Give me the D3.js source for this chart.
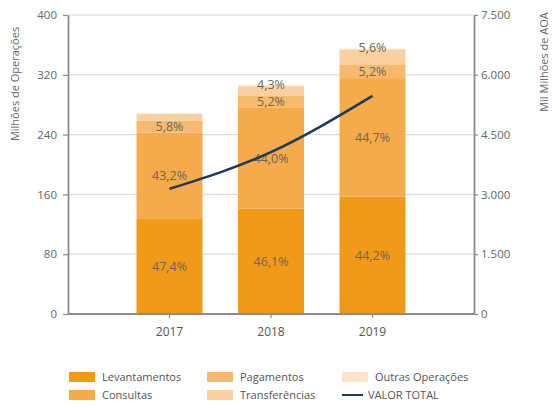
<!DOCTYPE html>
<html>
<head>
<meta charset="utf-8">
<script src="https://cdn.jsdelivr.net/npm/d3@7"></script>
<style>
  body { margin: 0; background: #fff; }
  text { font-family: "Open Sans", sans-serif; }
</style>
</head>
<body>
<svg id="chart" width="552" height="408"></svg>
<script>
// data
var years = ["2017", "2018", "2019"];
var totals = [268, 306, 355];               // Milhões de Operações
var levantamentos = [47.4, 46.1, 44.2];     // % of total
var consultas = [43.2, 44.0, 44.7];
var pagamentos = [5.8, 5.2, 5.2];
var transferencias = [3.6, 4.3, 5.6];
var outras = [0.0, 0.4, 0.3];
var valorTotal = [3140, 4060, 5470];        // Mil Milhões de AOA

var leftTicks = [0, 80, 160, 240, 320, 400];
var rightTicks = [0, 1500, 3000, 4500, 6000, 7500];

var seriesNames = ["Levantamentos", "Consultas", "Pagamentos", "Transferências", "Outras Operações"];
var seriesPct = [levantamentos, consultas, pagamentos, transferencias, outras];
var colors = ["#f19a1a", "#f5aa4b", "#f7ba6d", "#fad0a0", "#fde4c8"];

var pt = d3.formatLocale({decimal: ",", thousands: ".", grouping: [3], currency: ["", ""]});
var fmtPct = pt.format(".1f");
var fmtNum = pt.format(",");

var svg = d3.select("#chart");
var plotLeft = 68, plotRight = 474, plotTop = 15, plotBottom = 314;

var x = d3.scaleBand()
    .domain(years)
    .range([plotLeft + (plotRight - plotLeft) / 8, plotRight - (plotRight - plotLeft) / 8])
    .paddingInner(0.35)
    .paddingOuter(0.175);

var y = d3.scaleLinear().domain([0, 400]).range([plotBottom, plotTop]);
var y2 = d3.scaleLinear().domain([0, 7500]).range([plotBottom, plotTop]);

// gridlines
svg.append("g")
    .selectAll("line")
    .data(leftTicks.slice(1))
    .enter()
    .append("line")
    .attr("x1", plotLeft).attr("x2", plotRight)
    .attr("y1", function(d) { return y(d); })
    .attr("y2", function(d) { return y(d); })
    .attr("stroke", "#dcdcdc")
    .attr("stroke-width", 1.2);

// stacked bars
var stacks = years.map(function(yr, i) {
    var acc = 0;
    return seriesPct.map(function(s, k) {
        var v = s[i] * totals[i] / 100;
        var seg = {year: yr, k: k, pct: s[i], y0: acc, y1: acc + v};
        acc += v;
        return seg;
    });
});
var segs = [].concat.apply([], stacks);

svg.append("g")
    .selectAll("rect")
    .data(segs)
    .enter()
    .append("rect")
    .attr("x", function(d) { return x(d.year); })
    .attr("width", x.bandwidth())
    .attr("y", function(d) { return y(d.y1); })
    .attr("height", function(d) { return y(d.y0) - y(d.y1); })
    .attr("fill", function(d) { return colors[d.k]; });

// percentage labels
svg.append("g")
    .selectAll("text")
    .data(segs.filter(function(d) { return d.k < 3 || (d.k == 3 && d.pct >= 4); }))
    .enter()
    .append("text")
    .attr("x", function(d) { return x(d.year) + x.bandwidth() / 2; })
    .attr("y", function(d) {
        if (d.k == 3) return y(d.y1) - 2;
        return (y(d.y0) + y(d.y1)) / 2;
    })
    .attr("dy", "0.35em")
    .attr("text-anchor", "middle")
    .attr("font-size", 12.5)
    .attr("fill", "#6e6658")
    .text(function(d) { return fmtPct(d.pct) + "%"; });

// valor total line
var line = d3.line()
    .x(function(d, i) { return x(years[i]) + x.bandwidth() / 2; })
    .y(function(d) { return y2(d); })
    .curve(d3.curveMonotoneX);

svg.append("path")
    .datum(valorTotal)
    .attr("d", line)
    .attr("fill", "none")
    .attr("stroke", "#1d3a5c")
    .attr("stroke-width", 2.5);

// axes
var axisColor = "#8c8c8c";

var gl = svg.append("g")
    .attr("transform", "translate(" + plotLeft + ",0)")
    .call(d3.axisLeft(y).tickValues(leftTicks).tickSize(5).tickSizeOuter(0).tickPadding(6));

var gr = svg.append("g")
    .attr("transform", "translate(" + plotRight + ",0)")
    .call(d3.axisRight(y2).tickValues(rightTicks).tickSize(4).tickSizeOuter(0).tickPadding(3)
        .tickFormat(function(d) { return fmtNum(d); }));

var gb = svg.append("g")
    .attr("transform", "translate(0," + plotBottom + ")")
    .call(d3.axisBottom(x).tickSize(4).tickPadding(9));
gb.select(".domain").remove();

svg.append("line")
    .attr("x1", plotLeft).attr("x2", plotRight)
    .attr("y1", plotBottom).attr("y2", plotBottom)
    .attr("stroke", axisColor)
    .attr("stroke-width", 1.8);

[gl, gr, gb].forEach(function(g) {
    g.selectAll(".domain").attr("stroke", axisColor).attr("stroke-width", 1.8);
    g.selectAll(".tick line").attr("stroke", axisColor).attr("stroke-width", 1.2);
    g.selectAll(".tick text")
        .attr("fill", "#666")
        .attr("font-size", 11.5)
        .style("font-family", "Open Sans, sans-serif");
});
gb.selectAll(".tick text").attr("font-size", 12).attr("fill", "#555");

// axis titles
svg.append("text")
    .attr("transform", "translate(19,84) rotate(-90)")
    .attr("text-anchor", "middle")
    .attr("font-size", 11)
    .attr("fill", "#666")
    .text("Milhões de Operações");

svg.append("text")
    .attr("transform", "translate(548,62) rotate(-90)")
    .attr("text-anchor", "middle")
    .attr("font-size", 11)
    .attr("fill", "#666")
    .text("Mil Milhões de AOA");

// legend
var legendItems = [
    {name: "Levantamentos", color: colors[0], x: 69, y: 377},
    {name: "Consultas", color: colors[1], x: 69, y: 395},
    {name: "Pagamentos", color: colors[2], x: 207, y: 377},
    {name: "Transferências", color: colors[3], x: 207, y: 395},
    {name: "Outras Operações", color: colors[4], x: 342, y: 377},
    {name: "VALOR TOTAL", color: "#1d3a5c", x: 342, y: 395, line: true}
];

var lg = svg.append("g")
    .selectAll("g")
    .data(legendItems)
    .enter()
    .append("g")
    .attr("transform", function(d) { return "translate(" + d.x + "," + d.y + ")"; });

lg.filter(function(d) { return !d.line; })
    .append("rect")
    .attr("x", 0).attr("y", -5)
    .attr("width", 26).attr("height", 10)
    .attr("fill", function(d) { return d.color; });

lg.filter(function(d) { return d.line; })
    .append("line")
    .attr("x1", 0).attr("x2", 21)
    .attr("y1", 0).attr("y2", 0)
    .attr("stroke", function(d) { return d.color; })
    .attr("stroke-width", 2);

lg.append("text")
    .attr("x", function(d) { return d.line ? 26 : 33; })
    .attr("dy", "0.35em")
    .attr("font-size", 11)
    .attr("fill", "#555")
    .text(function(d) { return d.name; });
</script>
</body>
</html>
